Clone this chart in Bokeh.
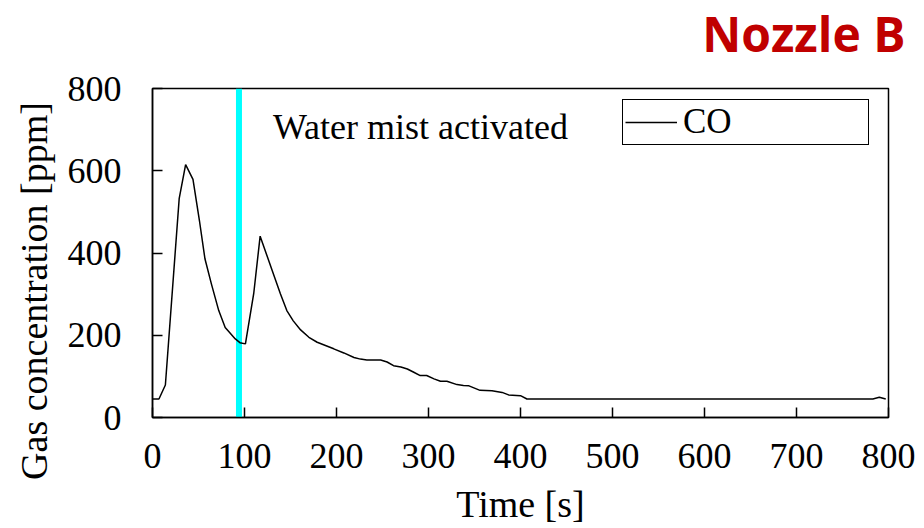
from bokeh.plotting import figure
from bokeh.models import Range1d, Label, Legend, LegendItem, FixedTicker
from bokeh.embed import file_html
from bokeh.resources import INLINE

# ---- data ----
time_s = [0, 7, 14, 29, 36, 44, 51, 57, 64, 72, 79, 90, 95, 101, 110, 117, 130, 139, 146,
          153, 161, 170, 179, 188, 197, 208, 219, 226, 233, 248, 255, 262, 270, 277, 284,
          291, 298, 306, 313, 320, 331, 338, 344, 356, 369, 380, 387, 400, 407, 783, 790, 797]
co_ppm = [45, 45, 79, 532, 615, 579, 479, 386, 325, 260, 219, 191, 182, 179, 301, 441, 358, 301, 260,
          235, 213, 195, 183, 175, 167, 157, 146, 142, 140, 140, 135, 126, 123, 118, 110,
          102, 102, 94, 88, 88, 80, 78, 77, 66, 65, 61, 55, 53, 45, 45, 49, 45]
activation_time = [94]
series_name = "CO"
x_ticks = [0, 100, 200, 300, 400, 500, 600, 700, 800]
y_ticks = [0, 200, 400, 600, 800]
x_limits = (0, 800)
y_limits = (0, 800)
title_text = "Nozzle B"
annotation_text = "Water mist activated"
annotation_pos = (131, 707)
x_label = "Time [s]"
y_label = "Gas concentration [ppm]"

SERIF = "Liberation Serif"
NBSP = "\u00a0"

p = figure(width=924, height=528, output_backend="svg", toolbar_location=None,
           x_range=Range1d(*x_limits), y_range=Range1d(*y_limits),
           min_border_left=152, min_border_right=36, min_border_top=88, min_border_bottom=111,
           background_fill_color="white", border_fill_color="white")
p.xgrid.visible = False
p.ygrid.visible = False
p.outline_line_color = "black"
p.outline_line_width = 1.5
p.outline_line_alpha = 1.0

p.xaxis.ticker = FixedTicker(ticks=x_ticks)
p.yaxis.ticker = FixedTicker(ticks=y_ticks)
p.xaxis.axis_label = x_label
p.yaxis.axis_label = y_label + NBSP * 8
for ax in (p.xaxis[0], p.yaxis[0]):
    ax.major_tick_in = 10
    ax.major_tick_out = 0
    ax.minor_tick_in = 0
    ax.minor_tick_out = 0
    ax.axis_line_width = 1.5
    ax.axis_line_color = "black"
    ax.major_tick_line_width = 1.5
    ax.major_tick_line_color = "black"
    ax.major_label_text_font = SERIF
    ax.major_label_text_font_size = "36px"
    ax.major_label_text_color = "black"
    ax.axis_label_text_font = SERIF
    ax.axis_label_text_font_size = "38px"
    ax.axis_label_text_font_style = "normal"
    ax.axis_label_text_color = "black"
p.xaxis.major_label_standoff = 26
p.xaxis.axis_label_standoff = 12
p.yaxis.major_label_standoff = 31
p.yaxis.axis_label_standoff = 10

# activation marker
p.segment(x0=activation_time, y0=[y_limits[0]], x1=activation_time, y1=[y_limits[1]],
          line_color="#00FFFF", line_width=6)

# CO curve
co = p.line(time_s, co_ppm, line_color="black", line_width=1.5)

legend = Legend(items=[LegendItem(label=series_name, renderers=[co])],
                location=(470, 272), margin=0, padding=2,
                glyph_width=52, glyph_height=20, label_standoff=6, label_width=183,
                label_text_font=SERIF, label_text_font_size="35px", label_text_color="black",
                border_line_color="black", border_line_width=1, border_line_alpha=1,
                background_fill_color="white", background_fill_alpha=1)
p.add_layout(legend)

p.add_layout(Label(x=annotation_pos[0], y=annotation_pos[1], text=annotation_text,
                   text_font=SERIF, text_font_size="36px", text_color="black",
                   text_baseline="alphabetic"))

# title, placed in the panel above the frame (screen units relative to that panel)
p.add_layout(Label(x=753, y=55, x_units="screen", y_units="screen", text=title_text,
                   text_align="right", text_baseline="alphabetic",
                   text_font="Open Sans", text_font_style="bold", text_font_size="48px",
                   text_color="#C00000"), "above")

open("out.html", "w").write(file_html(p, INLINE))
